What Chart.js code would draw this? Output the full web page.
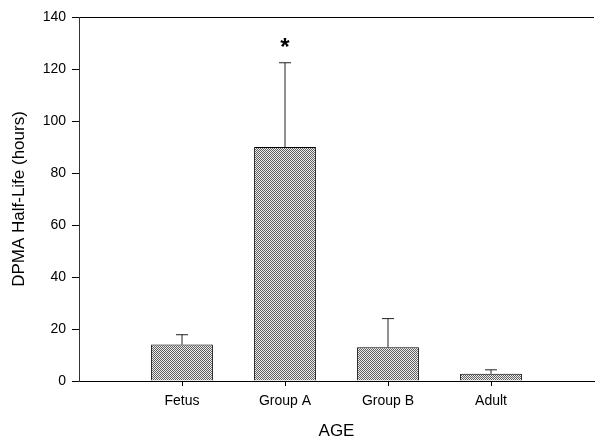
<!DOCTYPE html>
<html>
<head>
<meta charset="utf-8">
<script src="https://cdn.jsdelivr.net/npm/chart.js@4"></script>
<style>
  body { margin: 0; background: #fff; }
  #wrap { width: 601px; height: 440px; }
</style>
</head>
<body>
<div id="wrap"><canvas id="halfLifeChart" width="601" height="440"></canvas></div>
<script>
// DPMA half-life by age group (empty slots pad the axis on both sides)
const categories = ['', 'Fetus', 'Group A', 'Group B', 'Adult', ''];
const halfLife = [null, 14, 90, 13, 2.8, null];
const halfLifeErr = [null, 3.8, 32.4, 11, 1.5, null];
const marks = ['', '', '*', '', '', ''];
const yTickValues = [0, 20, 40, 60, 80, 100, 120, 140];

// dotted grey fill like the printed bars
function makePattern() {
  let c = document.createElement('canvas');
  c.width = 2;
  c.height = 2;
  let g = c.getContext('2d');
  g.fillStyle = '#eeeeee';
  g.fillRect(0, 0, 2, 2);
  g.fillStyle = '#5e5e5e';
  g.fillRect(0, 0, 1, 1);
  g.fillRect(1, 1, 1, 1);
  return g.createPattern(c, 'repeat');
}

// upward error bars + significance marker
const errorBars = {
  id: 'errorBars',
  afterDatasetsDraw(chart) {
    let ctx = chart.ctx;
    let yScale = chart.scales.y;
    let meta = chart.getDatasetMeta(0);
    ctx.save();
    meta.data.forEach((bar, i) => {
      if (halfLife[i] == null) return;
      let top = yScale.getPixelForValue(halfLife[i] + halfLifeErr[i]);
      ctx.strokeStyle = '#222';
      ctx.lineWidth = 1;
      ctx.beginPath();
      ctx.moveTo(bar.x, bar.y);
      ctx.lineTo(bar.x, top);
      ctx.moveTo(bar.x - 6, top);
      ctx.lineTo(bar.x + 6, top);
      ctx.stroke();
      if (marks[i]) {
        ctx.fillStyle = '#000';
        ctx.font = 'bold 24px "Liberation Sans", Arial, sans-serif';
        ctx.textAlign = 'center';
        ctx.textBaseline = 'middle';
        ctx.fillText(marks[i], bar.x, top - 14);
      }
    });
    ctx.restore();
  }
};

const font = '"Liberation Sans", Arial, sans-serif';

new Chart(document.getElementById('halfLifeChart'), {
  type: 'bar',
  data: {
    labels: categories,
    datasets: [{
      data: halfLife,
      backgroundColor: makePattern(),
      borderColor: '#000',
      borderWidth: 1,
      categoryPercentage: 1,
      barPercentage: 0.6
    }]
  },
  options: {
    responsive: false,
    animation: false,
    layout: { padding: { top: 17, right: 0, left: 0, bottom: 0 } },
    plugins: {
      legend: { display: false },
      tooltip: { enabled: false }
    },
    scales: {
      x: {
        offset: false,
        afterFit: (s) => { s.height = 59; },
        grid: {
          offset: false,
          drawOnChartArea: false,
          tickLength: 5,
          color: (c) => (categories[c.index] ? '#000' : 'rgba(0,0,0,0)')
        },
        border: { color: '#000', width: 1 },
        ticks: {
          color: '#000',
          padding: 7,
          maxRotation: 0,
          autoSkip: false,
          font: { family: font, size: 14 }
        },
        title: {
          display: true,
          text: 'AGE',
          color: '#000',
          padding: { top: 0, bottom: 0 },
          font: { family: font, size: 17, lineHeight: 1 }
        }
      },
      y: {
        min: 0,
        max: 140,
        afterFit: (s) => { s.width = 79; },
        afterBuildTicks: (s) => { s.ticks = yTickValues.map(v => ({ value: v })); },
        grid: {
          tickLength: 7,
          tickColor: '#000',
          color: (c) => (c.tick && c.tick.value === 140 ? '#000' : 'rgba(0,0,0,0)')
        },
        border: { color: '#333', width: 1 },
        ticks: {
          color: '#000',
          padding: 6,
          font: { family: font, size: 14 }
        },
        title: {
          display: true,
          text: 'DPMA Half-Life (hours)',
          color: '#000',
          padding: { top: 11, bottom: 0 },
          font: { family: font, size: 17, lineHeight: 1 }
        }
      }
    }
  },
  plugins: [errorBars]
});
</script>
</body>
</html>
